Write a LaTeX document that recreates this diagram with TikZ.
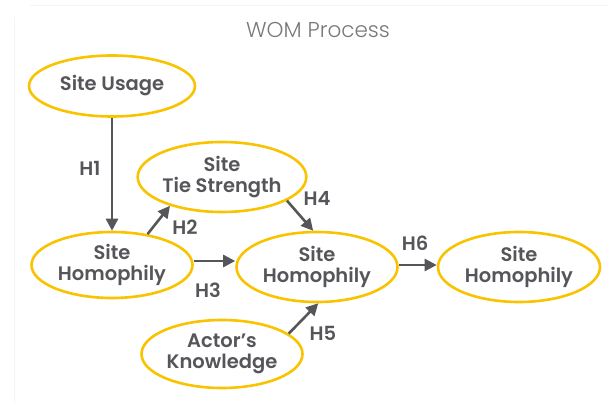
\documentclass[tikz,border=0pt]{standalone}
\usepackage{fontspec}
\setmainfont{Poppins}
\newfontfamily\nodefont{Poppins SemiBold}
\newfontfamily\titlefont{Poppins Light}
\usetikzlibrary{shapes.geometric,arrows.meta}
\definecolor{ringgold}{HTML}{F9C300}
\definecolor{inkgray}{HTML}{55565A}
\definecolor{framegray}{HTML}{F4F4F4}
\tikzset{
  concept/.style={ellipse, draw=ringgold, line width=2.6pt, fill=white,
    inner sep=0pt, text=inkgray, align=center,
    font=\nodefont\fontsize{19.5}{21}\selectfont},
  link/.style={draw=inkgray, line width=2.6pt,
    -{Triangle[length=12pt,width=12pt]}},
  hyp/.style={text=inkgray, font=\nodefont\fontsize{19.5}{21}\selectfont, inner sep=0pt}
}
\begin{document}
\begin{tikzpicture}[x=1pt,y=-1pt]
\useasboundingbox (0,0) rectangle (608,403);
% faint page frame
\draw[framegray, line width=1pt] (30,6) -- (608,6);
\draw[framegray, line width=1pt] (14,17) -- (14,403);
% title
\node[text=inkgray!80, font=\titlefont\fontsize{21.5}{22}\selectfont] (title) at (318,30) {WOM Process};
% concepts
\node[concept, minimum width=166pt, minimum height=61pt] (su) at (112,86) {Site Usage};
\node[concept, minimum width=162pt, minimum height=70pt] (ts) at (222,177) {Site\\Tie Strength};
\node[concept, minimum width=161pt, minimum height=66pt] (lh) at (112,265) {Site\\Homophily};
\node[concept, minimum width=161pt, minimum height=70pt] (mh) at (317,267) {Site\\Homophily};
\node[concept, minimum width=162pt, minimum height=70pt] (rh) at (519,267) {Site\\Homophily};
\node[concept, minimum width=161pt, minimum height=68pt] (ak) at (222,354) {Actor’s\\Knowledge};
% hypotheses
\draw[link] (su.south) -- (su.south |- lh.north);
\draw[link] (lh.41) -- (ts.209);
\draw[link] ([yshift=4pt]lh.east) -- ([yshift=4pt]lh.east -| mh.west);
\draw[link] (ts.-20) -- (mh.96);
\draw[link] (ak.17) -- (mh.-88);
\draw[link] ([yshift=2pt]mh.east) -- ([yshift=2pt]mh.east -| rh.west);
% labels
\node[hyp] (h1) at (90,168) {H1};
\node[hyp] (h2) at (185,227) {H2};
\node[hyp] (h3) at (208,290) {H3};
\node[hyp] (h4) at (317,198) {H4};
\node[hyp] (h5) at (323,333) {H5};
\node[hyp] (h6) at (415,243) {H6};
\end{tikzpicture}
\end{document}
